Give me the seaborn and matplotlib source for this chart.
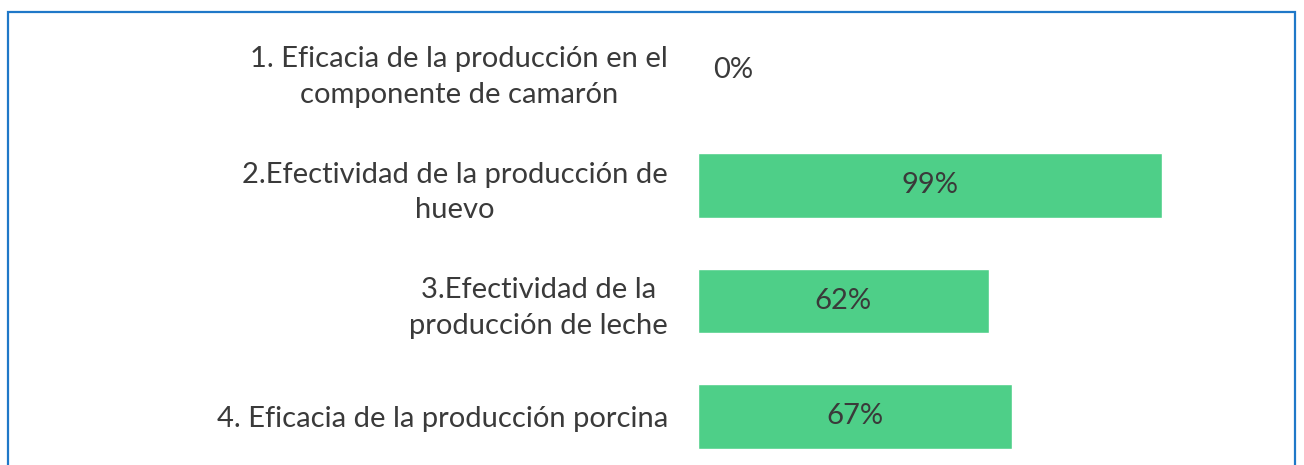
import numpy as np
import pandas as pd
import matplotlib
matplotlib.use("Agg")
import matplotlib.pyplot as plt
import seaborn as sns
from matplotlib.patches import Rectangle

# data
categories = [
    "1. Eficacia de la producción en el\ncomponente de camarón",
    "2.Efectividad de la producción de\nhuevo",
    "3.Efectividad de la\nproducción de leche",
    "4. Eficacia de la producción porcina",
]
values = [0, 99, 62, 67]

BAR_COLOR = "#4ECF88"
BORDER_COLOR = "#1F78C8"
TEXT_COLOR = "#3a3a3a"

sns.set_style("white")
plt.rcParams["font.family"] = ["Lato", "DejaVu Sans"]

df = pd.DataFrame({"cat": categories, "val": values})

W, H = 1304, 465
fig = plt.figure(figsize=(W / 100, H / 100), dpi=100)
ax = fig.add_axes([698 / W, 0, (1280 - 698) / W, 1 - 12 / H])

sns.barplot(df, y="cat", x="val", color=BAR_COLOR, width=0.56, saturation=1,
            orient="h", ax=ax)

ax.set_xlim(0, (1280 - 698) / ((1162 - 698) / 99))
ax.set_ylim(3.42, -0.502)
ax.set(xlabel="", ylabel="", xticks=[])
sns.despine(ax=ax, left=True, bottom=True)
ax.tick_params(axis="y", length=0, pad=21.6, labelsize=21, labelcolor=TEXT_COLOR)
for lbl in ax.get_yticklabels():
    lbl.set_multialignment("center")
    lbl.set_linespacing(1.45)

# value labels, centered in the bar (zero bar gets its label just past the axis)
for i, v in enumerate(values):
    xpos = v / 2 if v > 0 else 7.5
    ax.text(xpos, i, f"{v}%", ha="center", va="center", fontsize=21,
            color=TEXT_COLOR)

# outer frame (bottom edge falls outside the picture)
fig.patches.append(Rectangle((8 / W, -0.05), (1295 - 8) / W, 1.05 - 12 / H,
                             transform=fig.transFigure, fill=False,
                             edgecolor=BORDER_COLOR, linewidth=1.6))

fig.savefig("out.png", dpi=100)
